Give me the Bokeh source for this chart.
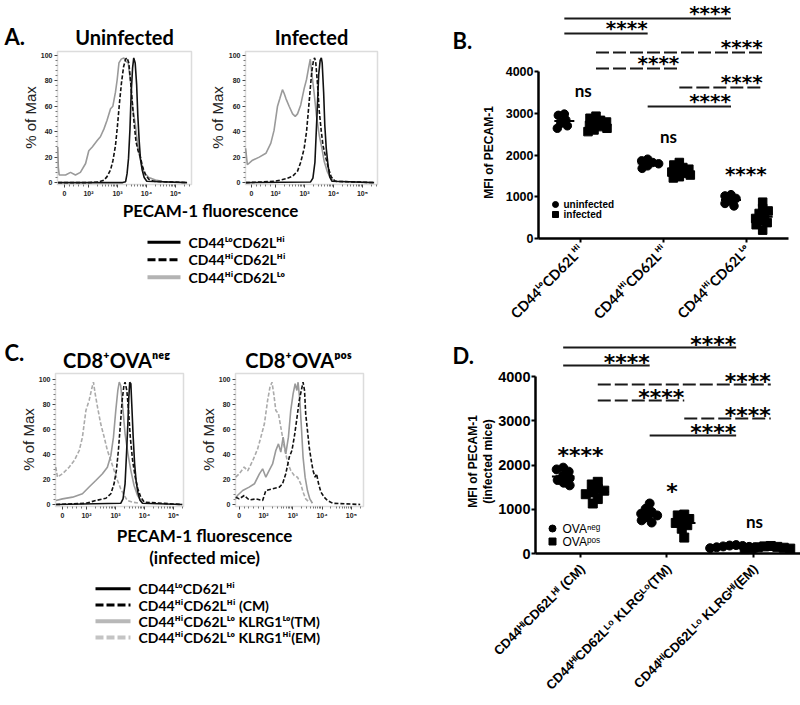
import math
from bokeh.plotting import figure
from bokeh.models import FixedTicker, Label, Range1d, BoxAnnotation
from bokeh.layouts import row, column
from bokeh.embed import file_html
from bokeh.resources import INLINE

CAL = "Lato"
ARI = "Liberation Sans"
STAR = "DejaVu Sans"

# ---------------- data ----------------
# histogram x values are in decade units (log10 of fluorescence); the "0" tick sits at 1.17
hist_tick_pos = [1.17, 2, 3, 4, 5]
hist_tick_lab = ["0", "10²", "10³", "10⁴", "10⁵"]
pct_tick_pos = [0, 20, 40, 60, 80, 100]

# A: uninfected
a1_lo_x = [0.95, 3.18, 3.28, 3.33, 3.38, 3.43, 3.47, 3.52, 3.56, 3.61, 3.66, 3.70, 3.75, 3.79, 3.85, 3.92, 4.01, 5.40]
a1_lo_y = [0, 0, 0.7, 7, 19, 42, 69, 90, 98, 94, 77, 53, 32, 19, 10, 4, 1, 0]
a1_hihi_x = [0.95, 2.01, 2.36, 2.53, 2.64, 2.76, 2.84, 2.93, 3.00, 3.07, 3.14, 3.21, 3.28, 3.33, 3.39, 3.45, 3.51, 3.58, 3.64, 3.71, 3.79, 3.87, 3.97, 4.08, 4.25, 5.40]
a1_hihi_y = [0, 0, 0.5, 1.8, 4.7, 10, 17, 29, 45, 63, 79, 91, 97, 98, 94, 80, 63, 45, 32, 25, 20, 12, 6, 2.6, 1, 0]
a1_hilo_x = [0.94, 0.96, 0.99, 1.21, 1.38, 1.55, 1.72, 1.90, 2.01, 2.13, 2.30, 2.41, 2.53, 2.64, 2.76, 2.84, 2.93, 2.99, 3.05, 3.13, 3.22, 3.30, 3.37, 3.45, 3.53, 3.62, 3.71, 3.81, 3.91, 4.08, 4.31, 4.54]
a1_hilo_y = [28, 12, 6, 6, 8, 6, 8, 15, 25, 28, 33, 36, 42, 49, 58, 60, 71, 81, 94, 97, 98, 95, 94, 79, 58, 45, 27, 16, 8, 4, 2, 1]

# A: infected
a2_lo_x = [0.98, 3.21, 3.29, 3.36, 3.40, 3.45, 3.49, 3.54, 3.58, 3.61, 3.66, 3.70, 3.75, 3.81, 3.87, 3.95, 5.40]
a2_lo_y = [0, 0.5, 3.5, 16, 37, 63, 85, 96, 98, 94, 71, 45, 27, 14, 4.5, 1, 0]
a2_hihi_x = [0.98, 1.55, 2.01, 2.36, 2.59, 2.76, 2.87, 2.99, 3.07, 3.14, 3.20, 3.25, 3.31, 3.35, 3.39, 3.45, 3.51, 3.58, 3.64, 3.74, 3.83, 3.92, 4.06, 5.40]
a2_hihi_y = [0, 0.5, 1.2, 3, 5, 9, 16, 27, 40, 58, 74, 87, 96, 98, 94, 77, 56, 40, 29, 19, 11, 4.5, 1, 0]
a2_hilo_x = [0.97, 1.03, 1.21, 1.44, 1.67, 1.84, 1.95, 2.07, 2.15, 2.24, 2.30, 2.36, 2.47, 2.59, 2.68, 2.76, 2.87, 2.99, 3.07, 3.14, 3.20, 3.25, 3.33, 3.41, 3.51, 3.60, 3.68, 3.79, 3.91, 4.08]
a2_hilo_y = [27, 14, 17.6, 20, 23, 31, 41, 60, 66, 73, 70, 66, 60, 54, 52, 54, 61, 74, 81, 90, 97, 86, 71, 53, 37, 27, 16.5, 8.4, 3.1, 1]

# C: CD8+ OVA-neg
c1_lo_x = [0.95, 3.18, 3.26, 3.33, 3.38, 3.43, 3.46, 3.49, 3.53, 3.56, 3.61, 3.66, 3.71, 3.77, 3.84, 3.93, 5.30]
c1_lo_y = [0, 1, 4.5, 16.6, 40.6, 67, 86, 98, 96.8, 80.7, 54, 32.5, 19.2, 9.9, 3.7, 1, 0]
c1_cm_x = [0.95, 1.98, 2.32, 2.67, 2.84, 2.95, 3.03, 3.10, 3.17, 3.23, 3.29, 3.33, 3.39, 3.45, 3.51, 3.59, 3.68, 3.77, 3.87, 3.99, 5.30]
c1_cm_y = [0, 1, 3.2, 5, 8.6, 16.6, 27.2, 43.3, 64.7, 83.4, 95.4, 98, 91.4, 75.4, 54, 35.3, 21.9, 12.6, 5.9, 1.9, 0]
c1_tm_x = [0.95, 1.17, 1.52, 1.86, 2.09, 2.32, 2.55, 2.72, 2.84, 2.93, 3.01, 3.08, 3.13, 3.18, 3.25, 3.33, 3.43, 3.53, 3.64, 3.76, 3.91]
c1_tm_y = [3.2, 4.5, 5.9, 8.6, 14, 19.2, 24.6, 29.9, 39.3, 54, 75.4, 91.4, 98.1, 95.4, 78, 56.7, 40.6, 27.2, 15.2, 7.2, 1.9]
c1_em_x = [0.94, 1.0, 1.17, 1.40, 1.58, 1.75, 1.86, 1.98, 2.09, 2.18, 2.24, 2.30, 2.38, 2.49, 2.61, 2.72, 2.84, 2.95, 3.07, 3.18, 3.30, 3.41, 3.59, 3.82]
c1_em_y = [30, 21.9, 24.6, 29.9, 35.3, 43.3, 54, 75.4, 83.4, 92.8, 98.1, 88.7, 78, 64.7, 54, 43.3, 35.3, 27.4, 19.2, 12.6, 7.2, 3.2, 1.9, 1]

# C: CD8+ OVA-pos
c2_cm_x = [1.05, 1.17, 1.34, 1.51, 1.74, 1.97, 2.08, 2.31, 2.54, 2.65, 2.76, 2.88, 2.97, 3.05, 3.13, 3.22, 3.29, 3.35, 3.40, 3.44, 3.50, 3.56, 3.63, 3.69, 3.76, 3.81, 3.88, 3.96, 4.07, 4.18, 4.36, 5.30]
c2_cm_y = [5.9, 4.5, 7.2, 3.7, 4.5, 3.2, 11.2, 12.6, 13.9, 16.6, 24.6, 38, 43.3, 54, 67.4, 83.4, 91.4, 98, 91.4, 72.7, 59.4, 46, 35.3, 27.2, 21.9, 24.6, 16.6, 9.9, 5.9, 3.2, 1, 0]
c2_tm_x = [1.05, 1.11, 1.29, 1.51, 1.69, 1.86, 1.97, 2.08, 2.19, 2.31, 2.42, 2.51, 2.59, 2.67, 2.76, 2.85, 2.93, 3.01, 3.08, 3.14, 3.18, 3.24, 3.30, 3.35, 3.42, 3.50, 3.58, 3.67]
c2_tm_y = [4.5, 7.2, 11.2, 13.9, 16.6, 24.6, 28.6, 21.9, 27.2, 32.5, 43.3, 48.6, 42, 54, 40.6, 54, 75.4, 88.7, 96.8, 91.4, 98, 83.4, 59.4, 38, 21.9, 11.2, 4.5, 1]
c2_em_x = [1.05, 1.17, 1.34, 1.46, 1.63, 1.80, 1.91, 2.03, 2.14, 2.22, 2.29, 2.35, 2.42, 2.51, 2.59, 2.71, 2.82, 2.93, 3.05, 3.16, 3.27, 3.35, 3.44, 3.56]
c2_em_y = [21.9, 24.6, 30, 27, 35, 44.6, 54, 64.7, 83.4, 94, 98, 88.7, 75.4, 72.7, 62, 46, 34, 27.2, 23.2, 21.9, 16.6, 9.9, 4.5, 1.9]

legend_a = ["CD44ᴸᵒCD62Lᴴⁱ", "CD44ᴴⁱCD62Lᴴⁱ", "CD44ᴴⁱCD62Lᴸᵒ"]
legend_c = ["CD44ᴸᵒCD62Lᴴⁱ", "CD44ᴴⁱCD62Lᴴⁱ (CM)", "CD44ᴴⁱCD62Lᴸᵒ KLRG1ᴸᵒ(TM)", "CD44ᴴⁱCD62Lᴸᵒ KLRG1ᴴⁱ(EM)"]

# B: MFI of PECAM-1, uninfected vs infected
b_categories = ["CD44ᴸᵒCD62Lᴴⁱ", "CD44ᴴⁱCD62Lᴴⁱ", "CD44ᴴⁱCD62Lᴸᵒ"]
b_uninfected = [[2980, 2950, 2840, 2760, 2700, 2640],
                [1900, 1860, 1820, 1790, 1740, 1680],
                [1050, 1020, 960, 900, 840, 780]]
b_infected = [[2930, 2880, 2830, 2790, 2740, 2710, 2680, 2640, 2600, 2560],
              [1820, 1760, 1700, 1660, 1620, 1590, 1560, 1520, 1480, 1450],
              [870, 720, 660, 600, 540, 480, 420, 380, 330, 200]]
b_group_names = ["uninfected", "infected"]
b_within = ["ns", "ns", "****"]
b_tests = [((1, 0), (3, 0)), ((1, 0), (2, 0)), ((1, 1), (3, 1)), ((1, 1), (2, 1)), ((2, 1), (3, 1)), ((2, 0), (3, 0))]
b_test_labels = ["****", "****", "****", "****", "****", "****"]

# D: MFI of PECAM-1 (infected mice), OVA-neg vs OVA-pos
d_categories = ["CD44ᴴⁱCD62Lᴴⁱ (CM)", "CD44ᴴⁱCD62Lᴸᵒ KLRGᴸᵒ(TM)", "CD44ᴴⁱCD62Lᴸᵒ KLRGᴴⁱ(EM)"]
d_ova_neg = [[1940, 1900, 1850, 1750, 1700, 1660, 1600, 1540],
             [1130, 1010, 940, 900, 860, 820, 750, 700],
             [190, 180, 170, 160, 150, 140, 130, 120]]
d_ova_pos = [[1620, 1560, 1460, 1420, 1380, 1340, 1230, 1130],
             [880, 860, 780, 740, 690, 640, 560, 360],
             [170, 160, 150, 140, 130, 120, 110, 100]]
d_group_names = ["OVAⁿᵉᵍ", "OVAᵖᵒˢ"]
d_within = ["****", "*", "ns"]
d_tests = [((1, 0), (3, 0)), ((1, 0), (2, 0)), ((1, 1), (3, 1)), ((1, 1), (2, 1)), ((2, 1), (3, 1)), ((2, 0), (3, 0))]
d_test_labels = ["****", "****", "****", "****", "****", "****"]

mfi_ticks = [0, 1000, 2000, 3000, 4000]

# ---------------- layout helpers ----------------
def canvas_fig(cx0, cy0, cw, ch, box, data, axes=True):
    """Figure whose frame fills the canvas; `box` (pixels on the page) shows the data window `data`."""
    bx0, by0, bx1, by1 = box
    dx0, dx1, dy0, dy1 = data
    kx = (bx1 - bx0) / (dx1 - dx0)
    ky = (by1 - by0) / (dy1 - dy0)
    xs = dx0 - (bx0 - cx0) / kx
    xe = dx1 + (cx0 + cw - bx1) / kx
    ys = dy0 - (cy0 + ch - by1) / ky
    ye = dy1 + (by0 - cy0) / ky
    kw = {} if axes else dict(x_axis_location=None, y_axis_location=None)
    p = figure(width=cw, height=ch, x_range=Range1d(xs, xe), y_range=Range1d(ys, ye), min_border=0,
               output_backend="svg", toolbar_location=None, **kw)
    p.outline_line_color = None
    p.grid.visible = False
    p.background_fill_color = "white"
    p.border_fill_color = "white"
    g = dict(cx0=cx0, cy0=cy0, cw=cw, ch=ch, xs=xs, ys=ys, kx=kx, ky=ky, data=data)
    return p, g

def dxp(g, X):
    return g["xs"] + (X - g["cx0"]) / g["kx"]

def dyp(g, Y):
    return g["ys"] + (g["cy0"] + g["ch"] - Y) / g["ky"]

def label(p, g, X, Y, text, font, size, style="bold", align="left", angle=0.0, color="#000000"):
    p.add_layout(Label(x=dxp(g, X), y=dyp(g, Y), text=text, text_font=font,
                       text_font_size=f"{size}px", text_font_style=style, text_align=align,
                       text_baseline="middle", angle=angle, text_color=color))

def label_d(p, g, x, y, text, font, size, dx_px=0.0, dy_px=0.0, style="bold", align="center", angle=0.0):
    # data position plus a pixel offset (dy_px positive = downwards)
    p.add_layout(Label(x=x + dx_px / g["kx"], y=y - dy_px / g["ky"], text=text, text_font=font,
                       text_font_size=f"{size}px", text_font_style=style, text_align=align,
                       text_baseline="middle", angle=angle, text_color="#000000"))

ST_LO = ("#111111", "solid", 1.6)
ST_HIHI = ("#111111", "4 2", 1.6)
ST_TM = ("#9a9a9a", "solid", 1.6)
ST_EM = ("#ababab", "4 2", 1.6)

def hist_fig(canvas, box, data, curves):
    p, g = canvas_fig(*canvas, box, data)
    dx0, dx1, dy0, dy1 = data
    p.add_layout(BoxAnnotation(left=dx0, right=dx1, bottom=dy0, top=dy1, fill_color=None,
                               line_color="#8a8a8a", line_width=1.5))
    minor = [1.34, 1.5, 1.67, 1.83]
    for n in [2, 3, 4, 5]:
        for k in range(2, 10):
            v = n + math.log10(k)
            if v < dx1:
                minor.append(v)
    xa = p.xaxis[0]
    xa.fixed_location = dy0
    xa.bounds = (dx0, dx1)
    xa.ticker = FixedTicker(ticks=hist_tick_pos, minor_ticks=minor)
    xa.major_label_overrides = {t: l for t, l in zip(hist_tick_pos, hist_tick_lab)}
    ya = p.yaxis[0]
    ya.fixed_location = dx0
    ya.bounds = (dy0, dy1)
    ya.ticker = FixedTicker(ticks=pct_tick_pos, minor_ticks=[v for v in range(4, 101, 4) if v % 20])
    for ax in (xa, ya):
        ax.axis_line_color = None
        ax.major_tick_out = 3
        ax.major_tick_in = 0
        ax.minor_tick_out = 2
        ax.minor_tick_in = 0
        ax.major_tick_line_color = "#444444"
        ax.minor_tick_line_color = "#777777"
        ax.major_label_text_font = ARI
        ax.major_label_text_font_style = "bold"
        ax.major_label_text_font_size = "7px"
        ax.major_label_text_color = "#222222"
        ax.major_label_standoff = 2
    for xs, ys, st in curves:
        p.line(xs, ys, line_color=st[0], line_dash=st[1], line_width=st[2])
    return p, g

# ---------------- panel A ----------------
pA1, gA1 = hist_fig((0, 0, 205, 200), (57, 51, 191, 184), (0.931, 5.552, -1.5, 103),
                    [(a1_hilo_x, a1_hilo_y, ST_TM), (a1_hihi_x, a1_hihi_y, ST_HIHI), (a1_lo_x, a1_lo_y, ST_LO)])
pA2, gA2 = hist_fig((205, 0, 195, 200), (245, 51, 377, 184), (0.966, 5.517, -1.5, 103),
                    [(a2_hilo_x, a2_hilo_y, ST_TM), (a2_hihi_x, a2_hihi_y, ST_HIHI), (a2_lo_x, a2_lo_y, ST_LO)])
label(pA1, gA1, 4, 36, "A.", CAL, 22)
label(pA1, gA1, 124, 36, "Uninfected", CAL, 20, align="center")
label(pA2, gA2, 311, 36, "Infected", CAL, 20, align="center")
label(pA1, gA1, 30, 117, "% of Max", ARI, 15, style="normal", align="center", angle=math.pi / 2, color="#222222")
label(pA2, gA2, 217, 117, "% of Max", ARI, 15, style="normal", align="center", angle=math.pi / 2, color="#222222")

tA, gTA = canvas_fig(0, 200, 400, 140, (0, 200, 400, 340), (0, 400, 0, 140), axes=False)
label(tA, gTA, 210, 210, "PECAM-1 fluorescence", CAL, 17, align="center")
leg_styles_a = [("#000000", "solid", 3), ("#000000", "8 3", 3), ("#b3b3b3", "solid", 4)]
for i, (txt, st) in enumerate(zip(legend_a, leg_styles_a)):
    Yc = 241.7 + i * 17.5
    tA.line([dxp(gTA, 147), dxp(gTA, 180)], [dyp(gTA, Yc), dyp(gTA, Yc)], line_color=st[0], line_dash=st[1], line_width=st[2])
    label(tA, gTA, 188, Yc, txt, CAL, 14)

# ---------------- panel C ----------------
pC1, gC1 = hist_fig((0, 340, 195, 182), (55, 373, 183, 506), (0.931, 5.345, -1.6, 105),
                    [(c1_em_x, c1_em_y, ST_EM), (c1_tm_x, c1_tm_y, ST_TM), (c1_cm_x, c1_cm_y, ST_HIHI), (c1_lo_x, c1_lo_y, ST_LO)])
pC2, gC2 = hist_fig((195, 340, 205, 182), (235, 373, 363, 506), (1.044, 5.413, -1.6, 105),
                    [(c2_em_x, c2_em_y, ST_EM), (c2_tm_x, c2_tm_y, ST_TM), (c2_cm_x, c2_cm_y, ST_HIHI)])
label(pC1, gC1, 4, 352, "C.", CAL, 22)
label(pC1, gC1, 116, 359, "CD8⁺OVAⁿᵉᵍ", CAL, 20, align="center")
label(pC2, gC2, 298, 359, "CD8⁺OVAᵖᵒˢ", CAL, 20, align="center")
label(pC1, gC1, 28, 439, "% of Max", ARI, 15, style="normal", align="center", angle=math.pi / 2, color="#222222")
label(pC2, gC2, 208, 439, "% of Max", ARI, 15, style="normal", align="center", angle=math.pi / 2, color="#222222")

tC, gTC = canvas_fig(0, 522, 400, 183, (0, 522, 400, 705), (0, 400, 0, 183), axes=False)
label(tC, gTC, 204, 535, "PECAM-1 fluorescence", CAL, 17, align="center")
label(tC, gTC, 204, 557, "(infected mice)", CAL, 17, align="center")
leg_styles_c = [("#000000", "solid", 3), ("#000000", "8 3", 3), ("#b8b8b8", "solid", 4), ("#c4c4c4", "8 3", 4)]
for i, (txt, st) in enumerate(zip(legend_c, leg_styles_c)):
    Yc = 588.3 + i * 16.2
    tC.line([dxp(gTC, 95), dxp(gTC, 130)], [dyp(gTC, Yc), dyp(gTC, Yc)], line_color=st[0], line_dash=st[1], line_width=st[2])
    label(tC, gTC, 138, Yc, txt, CAL, 14)

# ---------------- dot panels (B, D) ----------------
def swarm_px(vals, py_per_unit, diam):
    order = sorted(range(len(vals)), key=lambda i: -vals[i])
    placed = []
    out = [0.0] * len(vals)
    cands = sorted([c * 0.5 for c in range(-60, 61)], key=lambda c: (abs(c), -c))
    flip = 1
    for i in order:
        y = vals[i] * py_per_unit
        chosen = 0.0
        for c in cands:
            cc = c * flip
            if all((cc - px) ** 2 + (y - pyv) ** 2 >= diam ** 2 for px, pyv in placed):
                chosen = cc
                break
        flip = -flip
        placed.append((chosen, y))
        out[i] = chosen
    return out

def dot_fig(canvas, box, data, series, offs, msize, tick_fs, mean_hw, swarm_d):
    p, g = canvas_fig(*canvas, box, data)
    dx0, dx1, dy0, dy1 = data
    ya = p.yaxis[0]
    ya.fixed_location = dx0
    ya.bounds = (0, 4000)
    ya.ticker = FixedTicker(ticks=mfi_ticks)
    xa = p.xaxis[0]
    xa.fixed_location = 0
    xa.bounds = (dx0, dx1)
    xa.ticker = FixedTicker(ticks=[1, 2, 3])
    xa.major_label_overrides = {1: "", 2: "", 3: ""}
    for ax in (xa, ya):
        ax.axis_line_width = 2.5
        ax.axis_line_color = "#000000"
        ax.major_tick_line_width = 2
        ax.major_tick_out = 4
        ax.major_tick_in = 0
        ax.minor_tick_line_color = None
        ax.major_label_text_font = ARI
        ax.major_label_text_font_style = "bold"
        ax.major_label_text_font_size = tick_fs
        ax.major_label_text_color = "#000000"
        ax.major_label_standoff = 1
    markers = ["circle", "square"]
    for gi, grp in enumerate(series):
        for ci, vals in enumerate(grp):
            sw = swarm_px(vals, g["ky"], swarm_d)
            xs = [ci + 1 + offs[gi] + s / g["kx"] for s in sw]
            p.scatter(xs, vals, marker=markers[gi], size=msize, fill_color="#000000", line_color="#000000")
            n = len(vals)
            m = sum(vals) / n
            sd = math.sqrt(sum((v - m) ** 2 for v in vals) / (n - 1))
            se = sd / math.sqrt(n)
            xc = ci + 1 + offs[gi]
            p.segment(x0=[xc - mean_hw], y0=[m], x1=[xc + mean_hw], y1=[m], line_color="#000000", line_width=2)
            p.segment(x0=[xc, xc - 0.05, xc - 0.05], y0=[m - se, m - se, m + se],
                      x1=[xc, xc + 0.05, xc + 0.05], y1=[m + se, m - se, m + se],
                      line_color="#000000", line_width=1.5)
    return p, g

def brackets(p, g, tests, labels, levels, offs, star_fs, star_dy, dash):
    for ((ca, ga), (cb, gb)), lab, lev in zip(tests, labels, levels):
        xa = ca + offs[ga]
        xb = cb + offs[gb]
        p.segment(x0=[xa], y0=[lev], x1=[xb], y1=[lev], line_color="#1a1a1a", line_width=2,
                  line_dash=dash if ga == 1 else "solid")
        label_d(p, g, xb, lev, lab, STAR, star_fs, dx_px=0, dy_px=star_dy, align="right")

# B
b_offs = [-0.19, 0.19]
pB, gB = dot_fig((400, 0, 400, 330), (538, 71, 788, 238), (0.5, 3.5, 0, 4000),
                 [b_uninfected, b_infected], b_offs, 8.5, "12.5px", 0.12, 6.0)
b_levels = [5270, 4910, 4455, 4072, 3617, 3162]
brackets(pB, gB, b_tests, b_test_labels, b_levels, b_offs, 20, -5.4, "13 4")
b_lab_dx = [3, 5, -1]
b_lab_dy = [-23.7, -22.7, -20.4]
for ci, txt in enumerate(b_within):
    top = max(max(b_uninfected[ci]), max(b_infected[ci]))
    font, fs = (CAL, 17) if txt == "ns" else (STAR, 20)
    label_d(pB, gB, ci + 1, top, txt, font, fs, dx_px=b_lab_dx[ci], dy_px=b_lab_dy[ci])
label(pB, gB, 452, 40, "B.", CAL, 22)
label(pB, gB, 488, 152, "MFI of PECAM-1", ARI, 12, align="center", angle=math.pi / 2)
for ci, txt in enumerate(b_categories):
    label_d(pB, gB, ci + 1, 0, txt, CAL, 14, dx_px=1, dy_px=9, align="right", angle=math.pi / 4)
pB.scatter([dxp(gB, 555)], [dyp(gB, 204)], marker="circle", size=6, color="#000000")
pB.scatter([dxp(gB, 555)], [dyp(gB, 214)], marker="square", size=6, color="#000000")
label(pB, gB, 563, 204, b_group_names[0], ARI, 10)
label(pB, gB, 563, 214, b_group_names[1], ARI, 10)

# D
d_offs = [-0.2, 0.2]
pD, gD = dot_fig((400, 330, 400, 375), (535, 376, 800, 553), (0.48, 3.544, 0, 4000),
                 [d_ova_neg, d_ova_pos], d_offs, 9, "14.5px", 0.13, 6.5)
d_levels = [4655, 4249, 3819, 3458, 3051, 2667]
brackets(pD, gD, d_tests, d_test_labels, d_levels, d_offs, 22, -3, "13 4")
d_lab_dx = [0, 5, 1]
d_lab_dy = [-12, -12.3, -23.3]
for ci, txt in enumerate(d_within):
    top = max(max(d_ova_neg[ci]), max(d_ova_pos[ci]))
    font, fs = (CAL, 17) if txt == "ns" else (STAR, 22)
    label_d(pD, gD, ci + 1, top, txt, font, fs, dx_px=d_lab_dx[ci], dy_px=d_lab_dy[ci])
label(pD, gD, 452, 355, "D.", CAL, 22)
label(pD, gD, 472, 461, "MFI of PECAM-1", ARI, 12, align="center", angle=math.pi / 2)
label(pD, gD, 487, 461, "(infected mice)", ARI, 12, align="center", angle=math.pi / 2)
for ci, txt in enumerate(d_categories):
    label_d(pD, gD, ci + 1, 0, txt, ARI, 13, dx_px=2, dy_px=13, align="right", angle=math.pi / 4)
pD.scatter([dxp(gD, 552)], [dyp(gD, 528)], marker="circle", size=7, color="#000000")
pD.scatter([dxp(gD, 552)], [dyp(gD, 541)], marker="square", size=7, color="#000000")
label(pD, gD, 562, 528, d_group_names[0], ARI, 12, style="normal")
label(pD, gD, 562, 541, d_group_names[1], ARI, 12, style="normal")

left = column(row(pA1, pA2), tA, row(pC1, pC2), tC)
right = column(pB, pD)
layout = row(left, right)

open("out.html", "w").write(file_html(layout, INLINE))
